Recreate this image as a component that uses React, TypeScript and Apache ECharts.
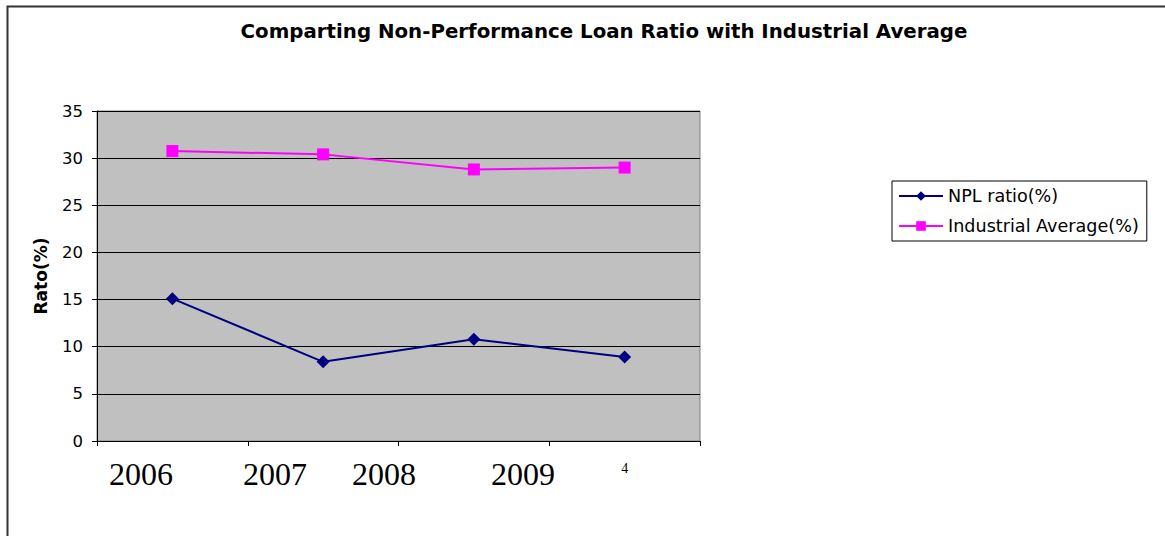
import React, { useEffect, useRef } from "react";
import * as echarts from "echarts";

const titleText = "Comparting Non-Performance Loan Ratio with Industrial Average";
const categories = ["1", "2", "3", "4"];
const yearLabels = ["2006", "2007", "2008", "2009"];
const nplRatio = [15.1, 8.4, 10.8, 8.9];
const industrialAverage = [30.75, 30.4, 28.8, 29.0];
const seriesNames = ["NPL ratio(%)", "Industrial Average(%)"];
const yAxisName = "Rato(%)";

export default function App() {
  const ref = useRef<HTMLDivElement>(null);
  useEffect(() => {
    const chart = echarts.init(ref.current!, null, { renderer: "svg" });
    const yearX = [141, 275, 384, 523];
    const sans = "DejaVu Sans, Verdana, sans-serif";
    chart.setOption({
      animation: false,
      backgroundColor: "#ffffff",
      title: {
        text: titleText,
        left: 599,
        top: 16,
        textAlign: "center",
        textStyle: { fontFamily: sans, fontSize: 19.8, fontWeight: "bold", color: "#000" },
      },
      legend: {
        orient: "vertical",
        left: 892,
        top: 181,
        padding: [6, 8, 6, 6],
        itemGap: 12,
        itemWidth: 44,
        itemHeight: 12,
        borderColor: "#000",
        borderWidth: 1,
        backgroundColor: "#fff",
        textStyle: { fontFamily: sans, fontSize: 17.6, color: "#000", padding: [0, 0, 0, 0] },
        data: seriesNames,
      },
      grid: {
        left: 97,
        top: 111,
        width: 603,
        height: 330,
        show: true,
        backgroundColor: "#C0C0C0",
        borderColor: "#808080",
        borderWidth: 1,
      },
      xAxis: {
        type: "category",
        data: categories,
        boundaryGap: true,
        axisLine: { show: true, lineStyle: { color: "#000", width: 1 } },
        axisTick: { show: true, length: 5, lineStyle: { color: "#000" } },
        axisLabel: {
          fontFamily: "Liberation Serif, Times New Roman",
          fontSize: 14,
          color: "#000",
          margin: 20,
          formatter: (v: string, i: number) => (i === categories.length - 1 ? v : ""),
        },
      },
      yAxis: {
        type: "value",
        min: 0,
        max: 35,
        interval: 5,
        name: yAxisName,
        nameLocation: "middle",
        nameGap: 48,
        nameTextStyle: { fontFamily: sans, fontSize: 17, fontWeight: "bold", color: "#000" },
        axisLine: { show: true, lineStyle: { color: "#000", width: 1 } },
        axisTick: { show: true, length: 5, lineStyle: { color: "#000" } },
        axisLabel: { fontFamily: sans, fontSize: 16.5, color: "#000", margin: 14 },
        splitLine: { show: true, lineStyle: { color: "#000", width: 1 } },
      },
      series: [
        {
          name: seriesNames[0],
          type: "line",
          data: nplRatio,
          symbol: "diamond",
          symbolSize: 13,
          lineStyle: { color: "#000080", width: 2 },
          itemStyle: { color: "#000080" },
        },
        {
          name: seriesNames[1],
          type: "line",
          data: industrialAverage,
          symbol: "rect",
          symbolSize: 12,
          lineStyle: { color: "#FF00FF", width: 2 },
          itemStyle: { color: "#FF00FF" },
        },
      ],
      graphic: [
        {
          type: "rect",
          shape: { x: 7.5, y: 6.5, width: 1300, height: 700 },
          style: { fill: "none", stroke: "#333", lineWidth: 2 },
          silent: true,
          z: 100,
        },
        ...yearLabels.map((t, i) => ({
          type: "text",
          x: yearX[i],
          y: 474,
          style: {
            text: t,
            fontFamily: "Liberation Serif, Times New Roman",
            fontSize: 32,
            fill: "#000",
            align: "center",
            verticalAlign: "middle",
          },
          z: 100,
        })),
      ],
    });
    return () => chart.dispose();
  }, []);
  return <div ref={ref} style={{ position: "fixed", left: 0, top: 0, width: 1165, height: 536 }} />;
}
